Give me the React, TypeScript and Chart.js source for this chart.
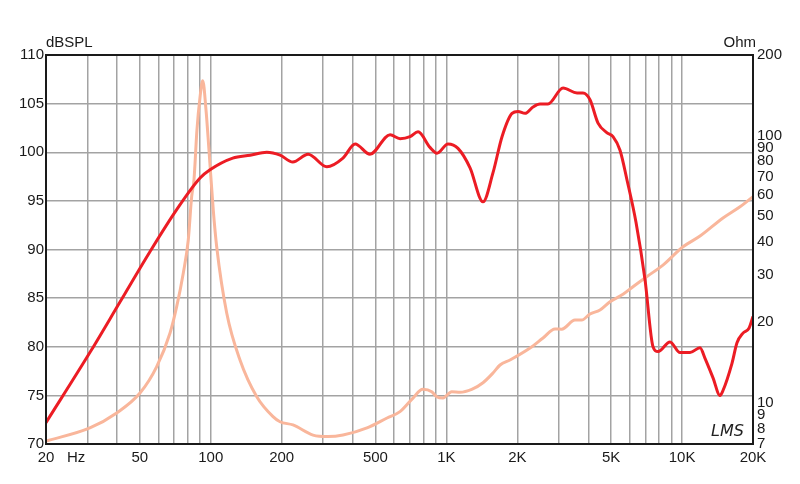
import React, { useEffect, useRef } from "react";
import { Chart, registerables } from "chart.js";

Chart.register(...registerables);

const splFreq = [20, 30.7, 41.2, 55.3, 71.7, 90.1, 99.3, 124, 147, 173, 197, 223, 259, 311, 364, 410, 474, 577, 636, 701, 758, 852, 912, 1016, 1120, 1260, 1430, 1577, 1722, 1899, 2013, 2156, 2330, 2496, 2698, 3125, 3584, 3798, 4068, 4400, 4806, 5094, 5454, 5840, 6376, 6963, 7530, 7908, 8890, 9798, 10808, 11918, 12514, 13534, 14488, 14918, 16288, 17104, 18140, 19232, 20000];
const splDb = [72.2, 79.4, 84.6, 89.8, 94.1, 97.35, 98.2, 99.4, 99.7, 100.0, 99.7, 99.0, 99.8, 98.5, 99.4, 100.85, 99.8, 101.8, 101.4, 101.6, 102.1, 100.5, 99.9, 100.85, 100.4, 98.4, 94.9, 97.9, 101.6, 104.0, 104.2, 104.0, 104.65, 104.96, 104.96, 106.6, 106.1, 106.1, 105.4, 103.0, 102.0, 101.6, 100.2, 97.15, 92.8, 86.9, 80.0, 79.5, 80.5, 79.4, 79.4, 79.9, 78.8, 76.8, 75.0, 75.5, 78.3, 80.4, 81.4, 81.9, 83.1];

const impFreq = [20, 30.7, 39.9, 50.1, 59.0, 67.2, 71.7, 76.5, 80.3, 83.0, 84.9, 87.4, 90.1, 92.5, 95.5, 98.3, 102.5, 106, 116.9, 133.1, 156.8, 183.8, 196.8, 223.4, 271.7, 314.5, 364.2, 460.3, 560, 635.6, 721.5, 793.6, 866.6, 909.8, 967.5, 1053, 1142, 1281, 1430, 1577, 1689, 1862, 2264, 2571, 2890, 3085, 3513, 3752, 4068, 4485, 4947, 5616, 6192, 7078, 8298, 10092, 11918, 14918, 17612, 20000];
const impOhm = [7.18, 8.04, 9.15, 10.86, 13.64, 18.22, 22.86, 30.56, 40.6, 59.0, 68.1, 104.8, 139.3, 160.3, 124.5, 88.2, 52.6, 38.3, 21.65, 14.44, 10.52, 8.86, 8.48, 8.25, 7.56, 7.46, 7.56, 8.04, 8.76, 9.25, 10.40, 11.21, 10.99, 10.52, 10.40, 10.99, 10.93, 11.21, 11.87, 12.91, 13.83, 14.44, 16.01, 17.46, 18.86, 18.83, 20.38, 20.38, 21.46, 22.22, 23.86, 25.43, 27.16, 29.6, 32.7, 38.3, 42.0, 49.1, 54.1, 59.0];

const xGridValues = [20, 30, 40, 50, 60, 70, 80, 90, 100, 200, 300, 400, 500, 600, 700, 800, 900, 1000, 2000, 3000, 4000, 5000, 6000, 7000, 8000, 9000, 10000, 20000];
const xTickLabels: Record<number, string> = { 20: "20", 50: "50", 100: "100", 200: "200", 500: "500", 1000: "1K", 2000: "2K", 5000: "5K", 10000: "10K", 20000: "20K" };
const ohmTicks = [7, 8, 9, 10, 20, 30, 40, 50, 60, 70, 80, 90, 100, 200];

const FONT = "'Liberation Sans', Arial, sans-serif";

export default function App() {
  const ref = useRef<HTMLCanvasElement | null>(null);
  useEffect(() => {
    if (!ref.current) return;
    const framePlugin = {
      id: "frame",
      afterDraw(chart: any) {
        const { ctx, chartArea } = chart;
        ctx.save();
        ctx.strokeStyle = "#1a1a1a";
        ctx.lineWidth = 2;
        ctx.strokeRect(chartArea.left, chartArea.top, chartArea.right - chartArea.left, chartArea.bottom - chartArea.top);
        ctx.fillStyle = "#1a1a1a";
        ctx.font = `15px ${FONT}`;
        ctx.textBaseline = "alphabetic";
        ctx.textAlign = "left";
        ctx.fillText("dBSPL", chartArea.left, chartArea.top - 8);
        ctx.textAlign = "right";
        ctx.fillText("Ohm", chartArea.right + 3, chartArea.top - 8);
        ctx.textAlign = "left";
        ctx.fillText("Hz", chartArea.left + 21, chartArea.bottom + 18);
        ctx.font = `italic 16px 'DejaVu Sans', sans-serif`;
        ctx.fillStyle = "#222";
        ctx.fillText("LMS", chartArea.right - 42, chartArea.bottom - 8);
        ctx.restore();
      },
    };
    const chart = new Chart(ref.current, {
      type: "line",
      data: {
        datasets: [
          {
            label: "SPL",
            data: splFreq.map((f, i) => ({ x: f, y: splDb[i] })),
            borderColor: "#ec1c24",
            borderWidth: 3,
            pointRadius: 0,
            cubicInterpolationMode: "monotone",
            yAxisID: "y",
          },
          {
            label: "Impedance",
            data: impFreq.map((f, i) => ({ x: f, y: impOhm[i] })),
            borderColor: "#f9b69b",
            borderWidth: 3,
            pointRadius: 0,
            cubicInterpolationMode: "monotone",
            yAxisID: "y2",
          },
        ],
      },
      options: {
        animation: false,
        responsive: false,
        events: [],
        layout: { padding: { top: 55, left: 0, right: 0, bottom: 0 } },
        plugins: { legend: { display: false }, tooltip: { enabled: false } },
        scales: {
          x: {
            type: "logarithmic",
            min: 20,
            max: 20000,
            afterBuildTicks: (scale: any) => {
              scale.ticks = xGridValues.map((v) => ({ value: v }));
            },
            afterFit: (scale: any) => {
              scale.height = 40;
            },
            ticks: {
              autoSkip: false,
              maxRotation: 0,
              padding: 5,
              color: "#1a1a1a",
              font: { family: FONT, size: 15 },
              callback: (v: any) => xTickLabels[Number(v)] ?? "",
            },
            grid: { color: "#a3a3a3", lineWidth: 1.5, drawTicks: false },
            border: { color: "#1a1a1a", width: 2 },
          },
          y: {
            type: "linear",
            position: "left",
            min: 70,
            max: 110,
            afterFit: (scale: any) => {
              scale.width = 46;
            },
            ticks: {
              stepSize: 5,
              padding: 2,
              color: "#1a1a1a",
              font: { family: FONT, size: 15 },
            },
            grid: { color: "#a3a3a3", lineWidth: 1.5, drawTicks: false },
            border: { color: "#1a1a1a", width: 2 },
          },
          y2: {
            type: "logarithmic",
            position: "right",
            min: 7,
            max: 200,
            afterBuildTicks: (scale: any) => {
              scale.ticks = ohmTicks.map((v) => ({ value: v }));
            },
            afterFit: (scale: any) => {
              scale.width = 47;
            },
            ticks: {
              autoSkip: false,
              padding: 4,
              color: "#1a1a1a",
              font: { family: FONT, size: 15 },
              callback: (v: any) => String(v),
            },
            grid: { display: false, drawTicks: false },
            border: { color: "#1a1a1a", width: 2 },
          },
        },
      } as any,
      plugins: [framePlugin],
    });
    return () => chart.destroy();
  }, []);
  return (
    <div style={{ position: "fixed", left: 0, top: 0, width: 800, height: 484, background: "#fff" }}>
      <canvas ref={ref} width={800} height={484} style={{ display: "block" }} />
    </div>
  );
}
